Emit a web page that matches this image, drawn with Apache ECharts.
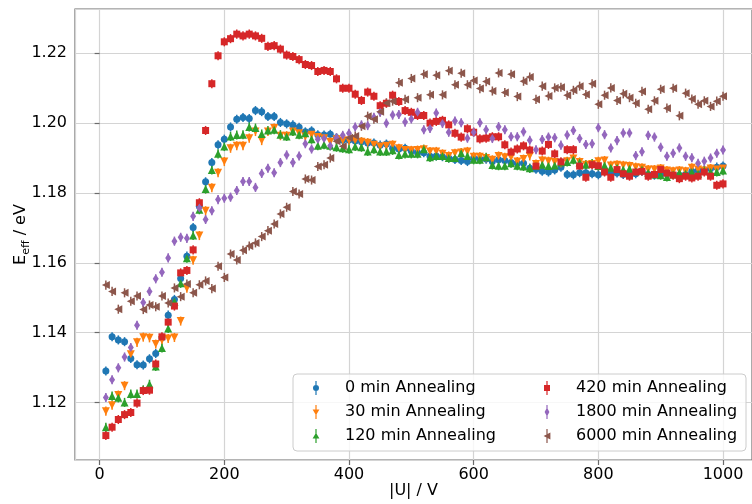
<!DOCTYPE html>
<html>
<head>
<meta charset="utf-8">
<script src="https://cdn.jsdelivr.net/npm/echarts@6/dist/echarts.min.js"></script>
<style>
  html, body { margin: 0; padding: 0; background: #fff; }
  #chart { width: 752px; height: 504px; }
</style>
</head>
<body>
<div id="chart"></div>
<script>
// Bias voltage |U| in V
const voltage = [10,20,30,40,50,60,70,80,90,100,110,120,130,140,150,160,170,180,190,200,
  210,220,230,240,250,260,270,280,290,300,310,320,330,340,350,360,370,380,390,400,
  410,420,430,440,450,460,470,480,490,500,510,520,530,540,550,560,570,580,590,600,
  610,620,630,640,650,660,670,680,690,700,710,720,730,740,750,760,770,780,790,800,
  810,820,830,840,850,860,870,880,890,900,910,920,930,940,950,960,970,980,990,1000];

// Effective band gap E_eff in eV for each annealing step
const eff0 = [1.1290,1.1388,1.1379,1.1374,1.1326,1.1308,1.1307,1.1325,1.1340,1.1385,
  1.1450,1.1495,1.1555,1.1619,1.1701,1.1762,1.1832,1.1887,1.1938,1.1954,
  1.1989,1.2011,1.2016,1.2013,1.2036,1.2033,1.2019,1.2019,1.2002,1.1998,
  1.1995,1.1988,1.1975,1.1978,1.1967,1.1966,1.1968,1.1958,1.1951,1.1952,
  1.1949,1.1947,1.1943,1.1943,1.1937,1.1940,1.1928,1.1926,1.1928,1.1920,
  1.1915,1.1915,1.1905,1.1906,1.1904,1.1900,1.1896,1.1893,1.1890,1.1900,
  1.1897,1.1897,1.1890,1.1895,1.1893,1.1887,1.1885,1.1885,1.1871,1.1868,
  1.1862,1.1860,1.1866,1.1874,1.1853,1.1852,1.1858,1.1858,1.1855,1.1852,
  1.1862,1.1860,1.1857,1.1853,1.1855,1.1855,1.1862,1.1853,1.1851,1.1853,
  1.1855,1.1853,1.1851,1.1853,1.1862,1.1864,1.1866,1.1870,1.1874,1.1877];

const eff30 = [1.1175,1.1192,1.1221,1.1248,1.1338,1.1372,1.1387,1.1385,1.1367,1.1378,
  1.1383,1.1386,1.1433,1.1527,1.1607,1.1678,1.1749,1.1815,1.1858,1.1890,
  1.1928,1.1935,1.1935,1.1957,1.1976,1.1950,1.1976,1.1986,1.1964,1.1964,
  1.1976,1.1971,1.1962,1.1967,1.1960,1.1957,1.1947,1.1954,1.1950,1.1950,
  1.1950,1.1947,1.1944,1.1938,1.1933,1.1935,1.1938,1.1928,1.1923,1.1922,
  1.1923,1.1925,1.1919,1.1919,1.1912,1.1906,1.1914,1.1916,1.1919,1.1904,
  1.1904,1.1900,1.1895,1.1906,1.1902,1.1902,1.1890,1.1897,1.1906,1.1883,
  1.1893,1.1891,1.1889,1.1883,1.1891,1.1899,1.1889,1.1881,1.1883,1.1891,
  1.1893,1.1879,1.1881,1.1879,1.1877,1.1874,1.1872,1.1867,1.1867,1.1870,
  1.1864,1.1862,1.1864,1.1862,1.1872,1.1867,1.1864,1.1870,1.1867,1.1870];

const eff120 = [1.1129,1.1218,1.1213,1.1200,1.1224,1.1224,1.1236,1.1252,1.1303,1.1356,
  1.1412,1.1488,1.1541,1.1613,1.1678,1.1752,1.1811,1.1866,1.1912,1.1933,
  1.1962,1.1966,1.1967,1.1989,1.1986,1.1969,1.1979,1.1981,1.1967,1.1962,
  1.1976,1.1967,1.1971,1.1954,1.1935,1.1938,1.1935,1.1931,1.1928,1.1925,
  1.1933,1.1931,1.1919,1.1925,1.1919,1.1919,1.1922,1.1909,1.1912,1.1912,
  1.1912,1.1925,1.1902,1.1906,1.1906,1.1900,1.1900,1.1914,1.1906,1.1895,
  1.1895,1.1902,1.1880,1.1878,1.1878,1.1885,1.1878,1.1876,1.1871,1.1877,
  1.1881,1.1877,1.1879,1.1887,1.1889,1.1895,1.1887,1.1881,1.1884,1.1877,
  1.1879,1.1872,1.1872,1.1867,1.1869,1.1862,1.1867,1.1858,1.1853,1.1851,
  1.1846,1.1853,1.1858,1.1855,1.1860,1.1855,1.1864,1.1860,1.1860,1.1864];

const eff420 = [1.1105,1.1129,1.1151,1.1165,1.1171,1.1198,1.1234,1.1235,1.1310,1.1388,
  1.1430,1.1476,1.1571,1.1578,1.1637,1.1772,1.1979,1.2113,1.2193,1.2233,
  1.2242,1.2255,1.2250,1.2255,1.2250,1.2243,1.2220,1.2222,1.2212,1.2195,
  1.2191,1.2182,1.2168,1.2165,1.2148,1.2151,1.2148,1.2127,1.2100,1.2100,
  1.2083,1.2065,1.2089,1.2077,1.2050,1.2057,1.2080,1.2062,1.2036,1.2031,
  1.2022,1.2022,1.2000,1.2005,1.2008,1.1995,1.1971,1.1960,1.1984,1.1974,
  1.1955,1.1957,1.1961,1.1961,1.1938,1.1917,1.1926,1.1935,1.1923,1.1877,
  1.1920,1.1939,1.1912,1.1889,1.1924,1.1924,1.1877,1.1845,1.1881,1.1878,
  1.1860,1.1845,1.1867,1.1855,1.1848,1.1860,1.1862,1.1848,1.1853,1.1867,
  1.1857,1.1851,1.1841,1.1848,1.1843,1.1848,1.1860,1.1848,1.1822,1.1826];

const eff1800 = [1.1214,1.1265,1.1299,1.1330,1.1357,1.1421,1.1486,1.1518,1.1554,1.1573,
  1.1614,1.1662,1.1673,1.1670,1.1733,1.1757,1.1724,1.1749,1.1781,1.1785,
  1.1788,1.1807,1.1833,1.1833,1.1816,1.1856,1.1871,1.1858,1.1887,1.1909,
  1.1887,1.1906,1.1941,1.1926,1.1954,1.1956,1.1935,1.1958,1.1965,1.1971,
  1.1989,1.1995,1.1993,1.2017,1.2031,1.2000,1.2023,1.2025,1.2003,1.2012,
  1.2031,1.1981,1.1985,1.2029,1.1999,1.1974,1.2006,1.2001,1.1957,1.1974,
  1.2001,1.1981,1.1956,1.1990,1.1981,1.1961,1.1961,1.1975,1.1951,1.1924,
  1.1953,1.1960,1.1958,1.1937,1.1966,1.1979,1.1956,1.1939,1.1941,1.1987,
  1.1967,1.1929,1.1950,1.1972,1.1972,1.1907,1.1918,1.1965,1.1960,1.1931,
  1.1905,1.1914,1.1929,1.1905,1.1901,1.1885,1.1891,1.1900,1.1914,1.1923];

const eff6000 = [1.1536,1.1518,1.1467,1.1514,1.1490,1.1505,1.1466,1.1479,1.1474,1.1505,
  1.1485,1.1528,1.1503,1.1539,1.1514,1.1537,1.1548,1.1526,1.1590,1.1558,
  1.1625,1.1608,1.1636,1.1648,1.1657,1.1675,1.1692,1.1711,1.1740,1.1759,
  1.1804,1.1797,1.1840,1.1837,1.1876,1.1881,1.1900,1.1948,1.1934,1.1958,
  1.1963,1.1991,1.2020,1.2011,1.2033,1.2058,1.2063,1.2116,1.2068,1.2128,
  1.2073,1.2140,1.2081,1.2137,1.2081,1.2150,1.2110,1.2143,1.2110,1.2122,
  1.2099,1.2119,1.2092,1.2144,1.2088,1.2140,1.2076,1.2120,1.2132,1.2068,
  1.2106,1.2078,1.2101,1.2103,1.2080,1.2094,1.2106,1.2082,1.2113,1.2054,
  1.2080,1.2101,1.2065,1.2084,1.2073,1.2057,1.2091,1.2040,1.2064,1.2097,
  1.2043,1.2100,1.2021,1.2086,1.2069,1.2054,1.2064,1.2048,1.2063,1.2077];

// Half-width of the uncertainty on each point, eV
const errHalf = 0.0013;

const seriesNames = ['0 min Annealing', '30 min Annealing', '120 min Annealing',
  '420 min Annealing', '1800 min Annealing', '6000 min Annealing'];
const seriesValues = [eff0, eff30, eff120, eff420, eff1800, eff6000];

const xTicks = [0, 200, 400, 600, 800, 1000];
const yTicks = [1.12, 1.14, 1.16, 1.18, 1.20, 1.22];

const palette = ['#1f77b4', '#ff7f0e', '#2ca02c', '#d62728', '#9467bd', '#8c564b'];
const markers = [
  { symbol: 'circle', size: 7, rotate: 0 },
  { symbol: 'triangle', size: 8, rotate: 180 },
  { symbol: 'triangle', size: 8, rotate: 0 },
  { symbol: 'rect', size: 7, rotate: 0 },
  { symbol: 'diamond', size: [6, 9], rotate: 0 },
  { symbol: 'triangle', size: 8, rotate: 90 }
];

// Legend glyphs: marker with a vertical error bar through it (8 x 14 box)
const frame = 'M0,7 L0.01,7 L0.01,7.01 Z M8,7 L7.99,7 L7.99,7.01 Z ';
const bar = 'M3.4,0 L4.6,0 L4.6,14 L3.4,14 Z ';
const legendGlyphs = [
  'path://' + frame + bar + 'M1,7 A3,3 0 1,1 7,7 A3,3 0 1,1 1,7 Z',
  'path://' + frame + bar + 'M0.6,4.6 L7.4,4.6 L4,10.2 Z',
  'path://' + frame + bar + 'M4,3.8 L7.4,9.4 L0.6,9.4 Z',
  'path://' + frame + bar + 'M1,4 L7,4 L7,10 L1,10 Z',
  'path://' + frame + bar + 'M4,2.6 L6.4,7 L4,11.4 L1.6,7 Z',
  'path://' + frame + bar + 'M0.6,7 L7.4,3.6 L7.4,10.4 Z'
];

const FONT = 'DejaVu Sans';
const axisGrey = '#6b6b6b';
const gridGrey = '#d4d4d4';

const series = [];
seriesValues.forEach((vals, k) => {
  const color = palette[k];
  series.push({
    type: 'custom',
    name: seriesNames[k] + ' error',
    silent: true,
    z: 2,
    renderItem: (params, api) => {
      const x = api.value(0);
      const p1 = api.coord([x, api.value(1)]);
      const p2 = api.coord([x, api.value(2)]);
      return {
        type: 'line',
        shape: { x1: p1[0], y1: p1[1], x2: p2[0], y2: p2[1] },
        style: { stroke: color, lineWidth: 1.5 }
      };
    },
    encode: { x: 0, y: [1, 2] },
    data: voltage.map((v, i) => [v, vals[i] - errHalf, vals[i] + errHalf])
  });
  series.push({
    type: 'scatter',
    name: seriesNames[k],
    z: 2,
    symbol: markers[k].symbol,
    symbolSize: markers[k].size,
    symbolRotate: markers[k].rotate,
    itemStyle: { color: color, opacity: 1 },
    data: voltage.map((v, i) => [v, vals[i]])
  });
});

const legendCommon = {
  orient: 'vertical',
  top: 380,
  padding: 0,
  itemWidth: 8,
  itemHeight: 14,
  itemGap: 8,
  selectedMode: false,
  textStyle: { fontFamily: FONT, fontSize: 16, color: '#000', lineHeight: 16, padding: [0, 0, 0, 20] }
};

const chart = echarts.init(document.getElementById('chart'), null, { renderer: 'canvas' });
chart.setOption({
  animation: false,
  backgroundColor: '#fff',
  grid: {
    left: 75, top: 9, right: 0, bottom: 44,
    outerBoundsMode: 'none',
    containLabel: false,
    show: true, borderColor: axisGrey, borderWidth: 1.2, backgroundColor: 'transparent'
  },
  xAxis: {
    type: 'value',
    min: -39.5, max: 1046.5,
    splitNumber: 5,
    name: '|U| / V',
    nameLocation: 'middle',
    nameGap: 23,
    nameMoveOverlap: false,
    nameTextStyle: { fontFamily: FONT, fontSize: 16, color: '#000', verticalAlign: 'top' },
    axisLine: { show: false },
    axisTick: { show: true, length: 5, lineStyle: { color: axisGrey, width: 1.2 } },
    axisLabel: {
      fontFamily: FONT, fontSize: 16, color: '#000', margin: 7,
      showMinLabel: false, showMaxLabel: false,
      formatter: v => (xTicks.includes(v) ? String(v) : '')
    },
    splitLine: { show: true, lineStyle: { color: gridGrey, width: 1.2 } }
  },
  yAxis: {
    type: 'value',
    min: 1.1035, max: 1.2327,
    splitNumber: 6,
    name: '{m|E}{s|eff}{m| / eV}',
    nameLocation: 'middle',
    nameGap: 44,
    nameMoveOverlap: false,
    nameTextStyle: {
      fontFamily: FONT, fontSize: 16, color: '#000',
      rich: {
        m: { fontFamily: FONT, fontSize: 16, color: '#000', lineHeight: 20, verticalAlign: 'middle' },
        s: { fontFamily: FONT, fontSize: 11, color: '#000', lineHeight: 12, padding: [10, 0, 0, 0], verticalAlign: 'middle' }
      }
    },
    axisLine: { show: false },
    axisTick: { show: true, length: 5, lineStyle: { color: axisGrey, width: 1.2 } },
    axisLabel: {
      fontFamily: FONT, fontSize: 16, color: '#000', margin: 8,
      showMinLabel: false, showMaxLabel: false,
      formatter: v => {
        const hit = yTicks.find(t => Math.abs(t - v) < 1e-6);
        return hit === undefined ? '' : hit.toFixed(2);
      }
    },
    splitLine: { show: true, lineStyle: { color: gridGrey, width: 1.2 } }
  },
  legend: [
    Object.assign({}, legendCommon, {
      left: 312,
      data: [0, 1, 2].map(k => ({ name: seriesNames[k], icon: legendGlyphs[k] }))
    }),
    Object.assign({}, legendCommon, {
      left: 543,
      data: [3, 4, 5].map(k => ({ name: seriesNames[k], icon: legendGlyphs[k] }))
    })
  ],
  graphic: [{
    type: 'rect',
    z: 3,
    shape: { x: 293, y: 374, width: 453, height: 77, r: 4 },
    style: { fill: 'rgba(255,255,255,0.8)', stroke: '#cccccc', lineWidth: 1 }
  }],
  series: series
});
</script>
</body>
</html>
